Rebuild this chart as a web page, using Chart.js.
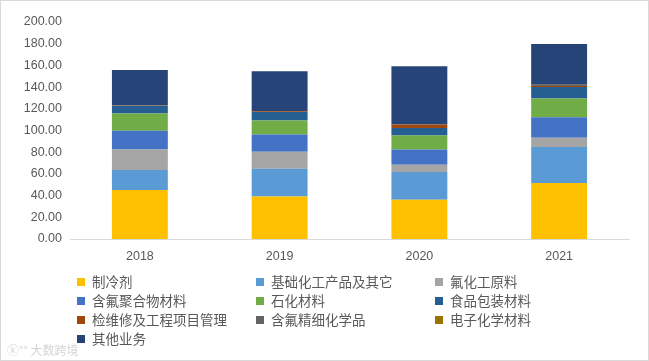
<!DOCTYPE html>
<html>
<head>
<meta charset="utf-8">
<script src="https://cdn.jsdelivr.net/npm/chart.js@4"></script>
<style>
  body { margin: 0; background: #fff; }
  #wrap { position: relative; width: 647px; height: 359px; border: 1px solid #d9d9d9; overflow: hidden; }
  #cv { position: absolute; left: 0; top: 0; }
  #legend { position: absolute; left: 0; top: 271px; width: 647px; font-family: "Noto Sans CJK SC", sans-serif; font-size: 13.5px; color: #595959; }
  .item { position: absolute; white-space: nowrap; line-height: 19px; }
  .sw { display: inline-block; width: 8px; height: 8px; margin-right: 7px; vertical-align: 1px; }
  #mark { position: absolute; left: 6px; bottom: 2px; font-family: "Noto Sans CJK SC", sans-serif; font-size: 12px; color: #d4d4d4; }
</style>
</head>
<body>
<div id="wrap">
  <canvas id="cv" width="647" height="272"></canvas>
  <div id="legend"></div>
  <div id="mark">ⓚ°° 大数跨境</div>
</div>
<script>
const years = ["2018", "2019", "2020", "2021"];

const seriesNames = ["制冷剂", "基础化工产品及其它", "氟化工原料", "含氟聚合物材料", "石化材料",
  "食品包装材料", "检维修及工程项目管理", "含氟精细化学品", "电子化学材料", "其他业务"];

const refrigerant = [45.2, 39.2, 36.1, 51.7];
const basicChem = [18.4, 25.6, 25.7, 33.0];
const fluoroRaw = [19.0, 15.6, 6.7, 8.6];
const fluoroPolymer = [17.1, 15.9, 14.1, 18.9];
const petrochem = [15.9, 12.9, 12.8, 17.2];
const foodPack = [7.3, 7.9, 7.0, 10.7];
const maintenance = [0.3, 0.6, 3.1, 0.8];
const fineChem = [0, 0, 0, 1.0];
const electronic = [0, 0, 0, 0.3];
const others = [32.5, 37.0, 53.8, 37.6];

const yTicks = [0, 20, 40, 60, 80, 100, 120, 140, 160, 180, 200];

const colors = ["#FFC000", "#5B9BD5", "#A5A5A5", "#4472C4", "#70AD47",
  "#255E91", "#9E480E", "#636363", "#997300", "#264478"];

const allData = [refrigerant, basicChem, fluoroRaw, fluoroPolymer, petrochem,
  foodPack, maintenance, fineChem, electronic, others];

const datasets = allData.map((d, i) => ({
  label: seriesNames[i],
  data: d,
  backgroundColor: colors[i],
  barPercentage: 0.8,
  categoryPercentage: 0.5
}));

chart = new Chart(document.getElementById("cv"), {
  type: "bar",
  data: { labels: years, datasets: datasets },
  options: {
    responsive: false,
    animation: false,
    layout: { padding: { top: 21, right: 19, left: 0, bottom: 0 } },
    plugins: { legend: { display: false }, tooltip: { enabled: false } },
    scales: {
      x: {
        stacked: true,
        grid: { display: false, drawTicks: false },
        border: { color: "#d9d9d9", width: 1 },
        ticks: { color: "#595959", padding: 10, font: { family: "Liberation Sans", size: 12.5 } },
        afterFit: s => { s.height = 34; }
      },
      y: {
        stacked: true,
        min: 0, max: 200,
        grid: { display: false, drawTicks: false },
        border: { display: false },
        afterBuildTicks: s => { s.ticks = yTicks.map(v => ({ value: v })); },
        ticks: {
          color: "#595959", padding: 8,
          font: { family: "Liberation Sans", size: 12.5 },
          callback: v => v.toFixed(2)
        },
        afterFit: s => { s.width = 69; }
      }
    }
  }
});

// legend in three columns
const legend = document.getElementById("legend");
const colX = [76, 255, 434];
seriesNames.forEach((name, i) => {
  const el = document.createElement("div");
  el.className = "item";
  el.style.left = colX[i % 3] + "px";
  el.style.top = (Math.floor(i / 3) * 19) + "px";
  el.innerHTML = `<span class="sw" style="background:${colors[i]}"></span>${name}`;
  legend.appendChild(el);
});
</script>
</body>
</html>
